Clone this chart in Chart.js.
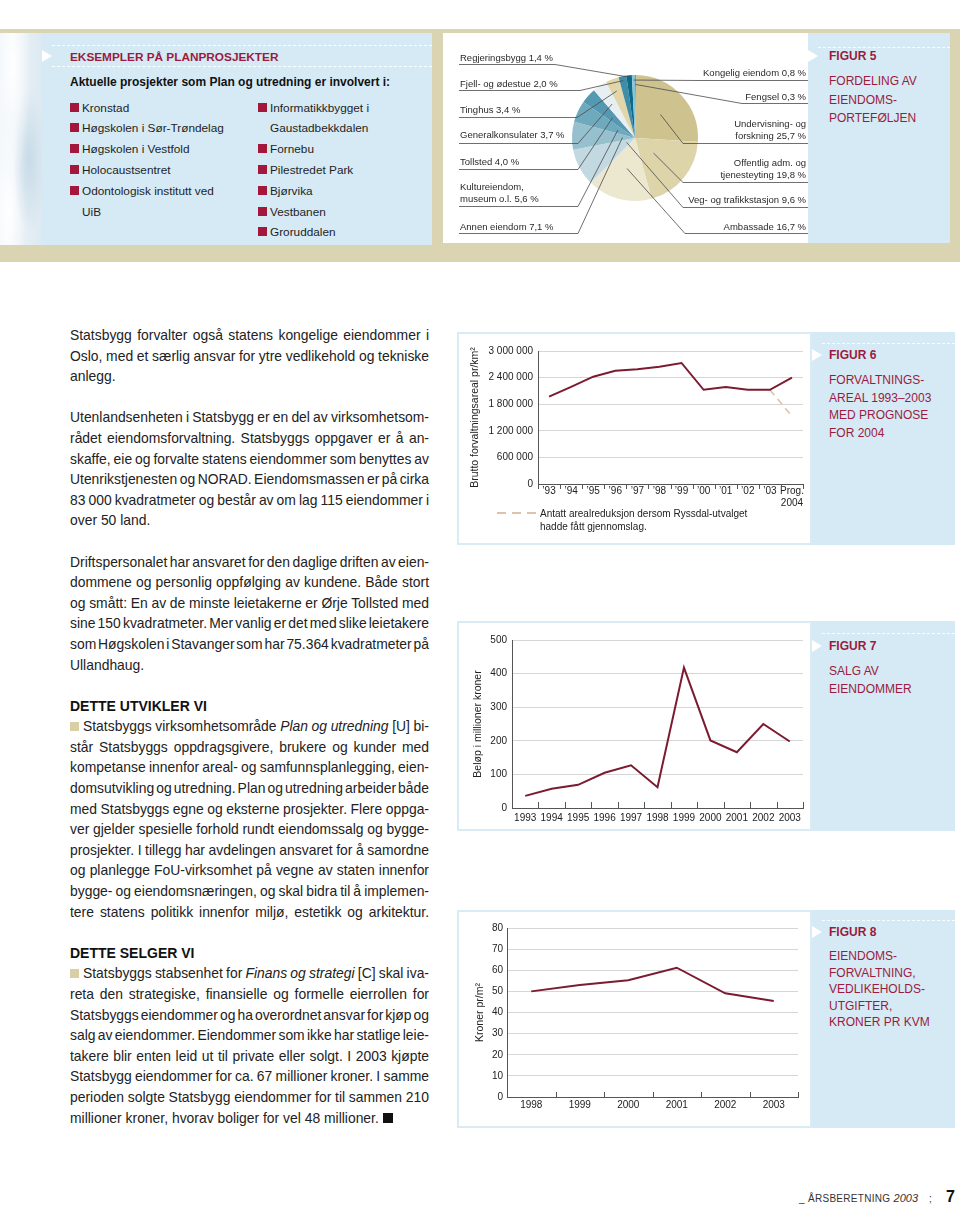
<!DOCTYPE html>
<html><head><meta charset="utf-8">
<script src="https://cdn.jsdelivr.net/npm/chart.js@4.4.1/dist/chart.umd.min.js"></script>
<style>
html,body{margin:0;padding:0;background:#fff;}
body{width:960px;height:1206px;position:relative;overflow:hidden;font-family:"Liberation Sans",Arial,Helvetica,sans-serif;color:#222;}
.abs{position:absolute;}
.red{color:#9b1b3e;}
.b{font-weight:bold;}
.dash{height:0;border-top:1px dashed rgba(255,255,255,0.95);}
.tri{width:0;height:0;border-top:6px solid transparent;border-bottom:6px solid transparent;border-left:10px solid #fff;}
.cap{background:#d5eaf5;}
.panel{background:#fff;border:2px solid #d9ecf6;box-sizing:border-box;}
.list{font-size:11.8px;line-height:20.8px;color:#1e1e1e;white-space:nowrap;}
.sq{display:inline-block;width:9px;height:9px;background:#a3173d;margin-right:3px;}
.ind{padding-left:12px;}
.capt{font-size:12px;white-space:nowrap;}
#col{left:70px;top:325px;width:359px;font-size:13.9px;line-height:20.6px;color:#222;}
#col .l{white-space:nowrap;height:20.6px;}
#col .h{font-weight:bold;font-size:14px;color:#111;}
.bq{display:inline-block;width:9px;height:9px;background:#d8d0a4;margin-right:4px;}
.eq{display:inline-block;width:10px;height:10px;background:#111;}
canvas{position:absolute;}
</style>
</head><body>

<!-- top band -->
<div class="abs" style="left:0;top:29px;width:960px;height:233px;background:#dad4b2;"></div>
<div class="abs" style="left:0;top:33px;width:432px;height:212px;background:#d5eaf5;"></div>
<div class="abs" style="left:0;top:33px;width:42px;height:212px;background:radial-gradient(ellipse at 30% 15%,#ffffff 0,rgba(255,255,255,0) 45%),radial-gradient(ellipse at 70% 60%,#c8dbe8 0,rgba(200,219,232,0) 40%),radial-gradient(ellipse at 20% 85%,#ffffff 0,rgba(255,255,255,0) 40%),linear-gradient(to right,#f1f6fa,#dde9f1);"></div>
<div class="abs dash" style="left:52px;top:45px;width:380px"></div>
<div class="abs dash" style="left:52px;top:66px;width:380px"></div>
<div class="abs tri" style="left:42px;top:50px"></div>
<div class="abs red b" style="left:70px;top:50px;font-size:11.8px;line-height:14px;white-space:nowrap">EKSEMPLER PÅ PLANPROSJEKTER</div>
<div class="abs b" style="left:70px;top:75px;font-size:12px;line-height:14px;color:#111;white-space:nowrap">Aktuelle prosjekter som Plan og utredning er involvert i:</div>
<div class="abs list" style="left:70px;top:97.6px;">
 <div><i class="sq"></i>Kronstad</div>
 <div><i class="sq"></i>Høgskolen i Sør-Trøndelag</div>
 <div><i class="sq"></i>Høgskolen i Vestfold</div>
 <div><i class="sq"></i>Holocaustsentret</div>
 <div><i class="sq"></i>Odontologisk institutt ved</div>
 <div class="ind">UiB</div>
</div>
<div class="abs list" style="left:258px;top:97.6px;">
 <div><i class="sq"></i>Informatikkbygget i</div>
 <div class="ind">Gaustadbekkdalen</div>
 <div><i class="sq"></i>Fornebu</div>
 <div><i class="sq"></i>Pilestredet Park</div>
 <div><i class="sq"></i>Bjørvika</div>
 <div><i class="sq"></i>Vestbanen</div>
 <div><i class="sq"></i>Groruddalen</div>
</div>

<!-- fig 5 -->
<div class="abs" style="left:443px;top:33px;width:365px;height:210px;background:#fff;"></div>
<canvas id="c5" width="365" height="210" style="left:443px;top:33px"></canvas>
<div class="abs cap" style="left:808px;top:33px;width:142px;height:210px;"></div>
<div class="abs dash" style="left:818px;top:47px;width:132px"></div>
<div class="abs tri" style="left:808px;top:50px"></div>
<div class="abs red b capt" style="left:829px;top:49px;line-height:15px">FIGUR 5</div>
<div class="abs red capt" style="left:829px;top:72px;line-height:18.5px">FORDELING AV<br>EIENDOMS-<br>PORTEFØLJEN</div>

<!-- body text -->
<div class="abs" id="col">
<div class="l">Statsbygg forvalter også statens kongelige eiendommer i</div>
<div class="l">Oslo, med et særlig ansvar for ytre vedlikehold og tekniske</div>
<div class="l e">anlegg.</div>
<div class="l"></div>
<div class="l">Utenlandsenheten i Statsbygg er en del av virksomhetsom-</div>
<div class="l">rådet eiendomsforvaltning. Statsbyggs oppgaver er å an-</div>
<div class="l">skaffe, eie og forvalte statens eiendommer som benyttes av</div>
<div class="l">Utenrikstjenesten og NORAD. Eiendomsmassen er på cirka</div>
<div class="l">83 000 kvadratmeter og består av om lag 115 eiendommer i</div>
<div class="l e">over 50 land.</div>
<div class="l"></div>
<div class="l">Driftspersonalet har ansvaret for den daglige driften av eien-</div>
<div class="l">dommene og personlig oppfølging av kundene. Både stort</div>
<div class="l">og smått: En av de minste leietakerne er Ørje Tollsted med</div>
<div class="l">sine 150 kvadratmeter. Mer vanlig er det med slike leietakere</div>
<div class="l">som Høgskolen i Stavanger som har 75.364 kvadratmeter på</div>
<div class="l e">Ullandhaug.</div>
<div class="l"></div>
<div class="l h">DETTE UTVIKLER VI</div>
<div class="l"><i class="bq"></i>Statsbyggs virksomhetsområde <i>Plan og utredning</i> [U] bi-</div>
<div class="l">står Statsbyggs oppdragsgivere, brukere og kunder med</div>
<div class="l">kompetanse innenfor areal- og samfunnsplanlegging, eien-</div>
<div class="l">domsutvikling og utredning. Plan og utredning arbeider både</div>
<div class="l">med Statsbyggs egne og eksterne prosjekter. Flere oppga-</div>
<div class="l">ver gjelder spesielle forhold rundt eiendomssalg og bygge-</div>
<div class="l">prosjekter. I tillegg har avdelingen ansvaret for å samordne</div>
<div class="l">og planlegge FoU-virksomhet på vegne av staten innenfor</div>
<div class="l">bygge- og eiendomsnæringen, og skal bidra til å implemen-</div>
<div class="l">tere statens politikk innenfor miljø, estetikk og arkitektur.</div>
<div class="l"></div>
<div class="l h">DETTE SELGER VI</div>
<div class="l"><i class="bq"></i>Statsbyggs stabsenhet for <i>Finans og strategi</i> [C] skal iva-</div>
<div class="l">reta den strategiske, finansielle og formelle eierrollen for</div>
<div class="l">Statsbyggs eiendommer og ha overordnet ansvar for kjøp og</div>
<div class="l">salg av eiendommer. Eiendommer som ikke har statlige leie-</div>
<div class="l">takere blir enten leid ut til private eller solgt. I 2003 kjøpte</div>
<div class="l">Statsbygg eiendommer for ca. 67 millioner kroner. I samme</div>
<div class="l">perioden solgte Statsbygg eiendommer for til sammen 210</div>
<div class="l e">millioner kroner, hvorav boliger for vel 48 millioner. <i class="eq"></i></div>
</div>

<!-- fig 6 -->
<div class="abs panel" style="left:457px;top:332px;width:355px;height:213px;"></div>
<canvas id="c6" width="350" height="205" style="left:460px;top:335px"></canvas>
<div class="abs" style="left:497px;top:512px;width:40px;height:2px;background:repeating-linear-gradient(to right,#dfc2aa 0 9px,rgba(0,0,0,0) 9px 15px);"></div>
<div class="abs" style="left:540px;top:507px;font-size:10px;line-height:13px;color:#222;white-space:nowrap">Antatt arealreduksjon dersom Ryssdal-utvalget<br>hadde fått gjennomslag.</div>
<div class="abs cap" style="left:812px;top:332px;width:143px;height:213px;"></div>
<div class="abs dash" style="left:822px;top:343px;width:133px"></div>
<div class="abs tri" style="left:812px;top:349px"></div>
<div class="abs red b capt" style="left:829px;top:348px;line-height:15px">FIGUR 6</div>
<div class="abs red capt" style="left:829px;top:372px;line-height:17.6px">FORVALTNINGS-<br>AREAL 1993–2003<br>MED PROGNOSE<br>FOR 2004</div>

<!-- fig 7 -->
<div class="abs panel" style="left:457px;top:621px;width:355px;height:210px;"></div>
<canvas id="c7" width="350" height="205" style="left:460px;top:625px"></canvas>
<div class="abs cap" style="left:812px;top:621px;width:143px;height:210px;"></div>
<div class="abs dash" style="left:822px;top:633px;width:133px"></div>
<div class="abs tri" style="left:812px;top:640px"></div>
<div class="abs red b capt" style="left:829px;top:639px;line-height:15px">FIGUR 7</div>
<div class="abs red capt" style="left:829px;top:662px;line-height:18px">SALG AV<br>EIENDOMMER</div>

<!-- fig 8 -->
<div class="abs panel" style="left:457px;top:910px;width:355px;height:218px;"></div>
<canvas id="c8" width="350" height="213" style="left:460px;top:912px"></canvas>
<div class="abs cap" style="left:812px;top:910px;width:143px;height:218px;"></div>
<div class="abs dash" style="left:822px;top:920px;width:133px"></div>
<div class="abs tri" style="left:812px;top:926px"></div>
<div class="abs red b capt" style="left:829px;top:925px;line-height:15px">FIGUR 8</div>
<div class="abs red capt" style="left:829px;top:948px;line-height:16.5px">EIENDOMS-<br>FORVALTNING,<br>VEDLIKEHOLDS-<br>UTGIFTER,<br>KRONER PR KVM</div>

<!-- footer -->
<div class="abs" style="left:799px;top:1191px;font-size:10px;line-height:14px;color:#333;white-space:nowrap"><span style="letter-spacing:0.3px">_ ÅRSBERETNING </span><span style="font-style:italic;font-size:11px">2003</span><span style="margin-left:11px">;</span></div>
<div class="abs b" style="left:946px;top:1188px;font-size:16px;line-height:18px;color:#111">7</div>

<script>
// ---------- DATA ----------
const pieNames = [['Fengsel'], ['Undervisning- og', 'forskning'], ['Offentlig adm. og', 'tjenesteyting'], ['Ambassade'],
  ['Veg- og trafikkstasjon'], ['Annen eiendom'], ['Kultureiendom,', 'museum o.l.'], ['Tollsted'], ['Generalkonsulater'],
  ['Tinghus'], ['Fjell- og ødestue'], ['Regjeringsbygg'], ['Kongelig eiendom']];
const pieValues = [0.3, 25.7, 19.8, 16.7, 9.6, 7.1, 5.6, 4.0, 3.7, 3.4, 2.0, 1.4, 0.8];

const fig6Categories = ['’93', '’94', '’95', '’96', '’97', '’98', '’99', '’00', '’01', '’02', '’03', ['Prog.', '2004']];
const fig6Area = [1970000, 2190000, 2420000, 2555000, 2590000, 2645000, 2730000, 2125000, 2185000, 2125000, 2125000, 2400000];
const fig6Ryssdal = [null, null, null, null, null, null, null, null, null, null, 2125000, 1530000];

const fig7Years = ['1993', '1994', '1995', '1996', '1997', '1998', '1999', '2000', '2001', '2002', '2003'];
const fig7Sales = [36, 57, 69, 105, 127, 62, 418, 201, 166, 250, 198];

const fig8Years = ['1998', '1999', '2000', '2001', '2002', '2003'];
const fig8Cost = [50, 53, 55.3, 61.2, 49.1, 45.4];

// ---------- STYLE / LAYOUT ----------
const pieColors = ['#a0974e', '#cec28f', '#ddd4a9', '#ece7cf', '#c3d9e2', '#97c0cf', '#6fa9bd', '#5499b1', '#e7eff2', '#e0d6a9', '#3f8da8', '#0c6a88', '#86c4da'];
const pieLayout = [
  {side:'r', x:806, y:[97], ulY:103, lx:742, r:0.85},
  {side:'r', x:806, y:[124,136], ulY:143, lx:683, r:0.55},
  {side:'r', x:806, y:[163,175], ulY:182, lx:683, r:0.38},
  {side:'r', x:806, y:[227], ulY:233, lx:685, r:0.5},
  {side:'r', x:806, y:[200], ulY:207, lx:683, r:0.15},
  {side:'l', x:460, y:[227], ulY:233, lx:578, r:0.2},
  {side:'l', x:460, y:[187,199], ulY:206, lx:578, r:0.3},
  {side:'l', x:460, y:[162], ulY:169, lx:578, r:0.48},
  {side:'l', x:460, y:[135], ulY:143, lx:578, r:0.65},
  {side:'l', x:460, y:[110], ulY:117, lx:577, r:0.8},
  {side:'l', x:460, y:[84], ulY:90, lx:580, r:0.93},
  {side:'l', x:460, y:[58], ulY:64, lx:555, r:0.97},
  {side:'r', x:806, y:[73], ulY:80, lx:700, r:0.92}
];
const LINE = '#7b1b30';
const FONT = '"Liberation Sans", Arial, Helvetica, sans-serif';
Chart.defaults.font.family = FONT;
Chart.defaults.color = '#222';

const fmtPct = v => v.toFixed(1).replace('.', ',') + ' %';
const fmtSpace = v => String(v).replace(/\B(?=(\d{3})+(?!\d))/g, ' ');

const boundaryTicks = {
  id: 'boundaryTicks',
  afterDraw(chart, args, opts) {
    const x = chart.scales.x, ctx = chart.ctx;
    const n = chart.data.labels.length;
    ctx.save();
    ctx.strokeStyle = opts.color || '#555';
    ctx.lineWidth = 1;
    for (let i = 0; i <= n; i++) {
      const px = Math.round(x.getPixelForValue(i - 0.5)) + 0.5;
      ctx.beginPath();
      ctx.moveTo(px, x.top);
      ctx.lineTo(px, x.top + opts.dir * opts.len);
      ctx.stroke();
    }
    ctx.restore();
  }
};

const pieLeaders = {
  id: 'pieLeaders',
  afterDraw(chart, args, opts) {
    const meta = chart.getDatasetMeta(0), ctx = chart.ctx;
    const OX = opts.ox, OY = opts.oy;
    ctx.save();
    ctx.font = '9.5px ' + FONT;
    ctx.fillStyle = '#2a2a2a';
    ctx.strokeStyle = '#4a4a4a';
    ctx.lineWidth = 0.8;
    ctx.textBaseline = 'middle';
    pieLayout.forEach((L, i) => {
      const arc = meta.data[i];
      const p = arc.getProps(['x', 'y', 'startAngle', 'endAngle', 'outerRadius'], true);
      const mid = (p.startAngle + p.endAngle) / 2;
      const tx = p.x + Math.cos(mid) * p.outerRadius * L.r;
      const ty = p.y + Math.sin(mid) * p.outerRadius * L.r;
      const lines = pieNames[i].slice();
      lines[lines.length - 1] = lines[lines.length - 1] + ' ' + fmtPct(pieValues[i]);
      ctx.textAlign = L.side === 'l' ? 'left' : 'right';
      lines.forEach((t, k) => ctx.fillText(t, L.x - OX, L.y[k] - OY));
      const x0 = L.side === 'l' ? 459 : 808;
      ctx.beginPath();
      ctx.moveTo(x0 - OX, L.ulY - OY + 0.5);
      ctx.lineTo(L.lx - OX, L.ulY - OY + 0.5);
      ctx.lineTo(tx, ty);
      ctx.stroke();
    });
    ctx.restore();
  }
};

// ---------- FIG 5 ----------
new Chart(document.getElementById('c5'), {
  type: 'pie',
  data: { labels: pieNames.map(n => n.join(' ')), datasets: [{ data: pieValues, backgroundColor: pieColors, borderWidth: 0 }] },
  options: {
    responsive: false, animation: false, events: [],
    layout: { padding: { left: 129, right: 110, top: 42, bottom: 42 } },
    plugins: { legend: { display: false }, tooltip: { enabled: false }, pieLeaders: { ox: 443, oy: 33 } }
  },
  plugins: [pieLeaders]
});

function lineOpts(cfg) {
  return {
    responsive: false, animation: false, events: [],
    layout: { padding: { left: 0, right: cfg.padR, top: cfg.padT, bottom: 0 } },
    plugins: { legend: { display: false }, tooltip: { enabled: false }, boundaryTicks: { dir: cfg.tickDir, len: cfg.tickLen, color: '#555' } },
    scales: {
      x: {
        type: 'category', offset: true,
        grid: { display: false, drawTicks: false },
        border: { display: true, color: '#555', width: 1 },
        ticks: { padding: cfg.xPad, font: { size: 10 }, color: '#222', maxRotation: 0, autoSkip: false },
        afterFit(s) { s.height = cfg.xH; }
      },
      y: {
        min: 0, max: cfg.max,
        ticks: { stepSize: cfg.step, padding: cfg.yPad, font: { size: 10 }, color: '#222', callback: cfg.fmt || (v => v) },
        grid: { color: '#d6d6d6', drawTicks: false, lineWidth: 1 },
        border: { display: true, color: '#555', width: 1 },
        title: { display: true, text: cfg.title, font: { size: 10.5 }, color: '#222', padding: { top: cfg.titlePad, bottom: 0 } },
        afterFit(s) { s.width = cfg.yW; }
      }
    }
  };
}

// ---------- FIG 6 ----------
new Chart(document.getElementById('c6'), {
  type: 'line',
  data: { labels: fig6Categories, datasets: [
    { data: fig6Area, borderColor: LINE, borderWidth: 2, pointRadius: 0, tension: 0, fill: false },
    { data: fig6Ryssdal, borderColor: '#dfc1a8', borderWidth: 1.6, borderDash: [7, 5], pointRadius: 0, tension: 0, fill: false, spanGaps: false }
  ] },
  options: lineOpts({ padR: 7, padT: 16, tickDir: 1, tickLen: 5, xPad: 1, xH: 56, max: 3000000, step: 600000, yPad: 5, fmt: fmtSpace,
    title: 'Brutto forvaltningsareal pr/km²', titlePad: 9, yW: 78 }),
  plugins: [boundaryTicks]
});

// ---------- FIG 7 ----------
new Chart(document.getElementById('c7'), {
  type: 'line',
  data: { labels: fig7Years, datasets: [
    { data: fig7Sales, borderColor: LINE, borderWidth: 2, pointRadius: 0, tension: 0, fill: false }
  ] },
  options: lineOpts({ padR: 7, padT: 15, tickDir: -1, tickLen: 6, xPad: 4, xH: 22, max: 500, step: 100, yPad: 5,
    title: 'Beløp i millioner kroner', titlePad: 12, yW: 52 }),
  plugins: [boundaryTicks]
});

// ---------- FIG 8 ----------
new Chart(document.getElementById('c8'), {
  type: 'line',
  data: { labels: fig8Years, datasets: [
    { data: fig8Cost, borderColor: LINE, borderWidth: 2, pointRadius: 0, tension: 0, fill: false }
  ] },
  options: lineOpts({ padR: 12, padT: 16, tickDir: -1, tickLen: 5, xPad: 2, xH: 28, max: 80, step: 10, yPad: 4,
    title: 'Kroner pr/m²', titlePad: 14, yW: 47 }),
  plugins: [boundaryTicks]
});

// ---------- text justification ----------
document.querySelectorAll('#col .l').forEach(el => { el.innerHTML = '<span class="in">' + el.innerHTML + '</span>'; });
function justify() {
  const W = 359;
  document.querySelectorAll('#col .l').forEach(el => {
    if (el.classList.contains('h') || !el.textContent.trim()) return;
    el.style.wordSpacing = '0px'; el.style.letterSpacing = '0px';
    const w = el.querySelector('.in').getBoundingClientRect().width;
    const n = (el.textContent.match(/ /g) || []).length;
    const last = el.classList.contains('e');
    if (!last || w > W) {
      let ws = n ? (W - w) / n : 0;
      if (ws < -2) {
        ws = -2;
        const rem = W - w - ws * n;
        el.style.letterSpacing = (rem / el.textContent.length) + 'px';
      }
      el.style.wordSpacing = ws + 'px';
    }
  });
}
justify();
if (document.fonts && document.fonts.ready) document.fonts.ready.then(justify);
</script>
</body></html>
